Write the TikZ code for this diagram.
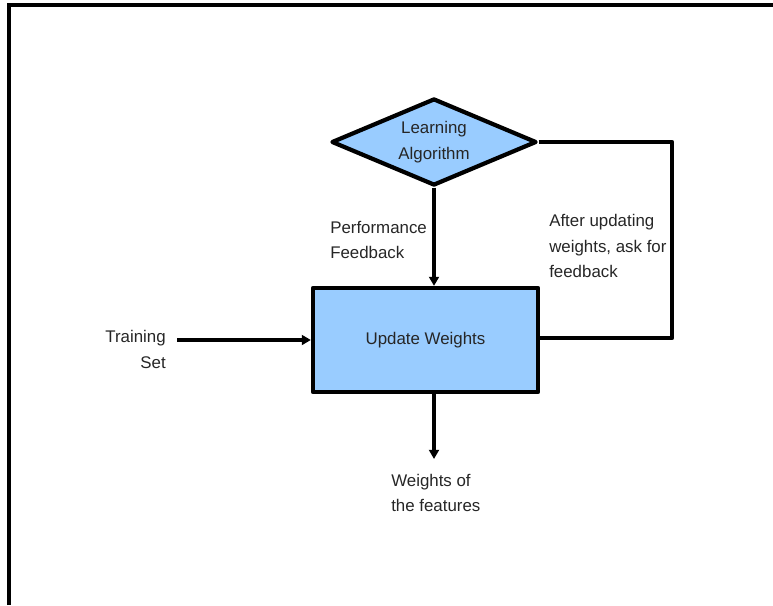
\documentclass[tikz,border=0pt]{standalone}
\usepackage{fontspec}
\setmainfont{Liberation Sans}
\usepackage{tikz}
\usetikzlibrary{arrows.meta,calc,positioning,shapes.geometric}
\definecolor{boxblue}{HTML}{99CCFF}
\definecolor{txtgray}{HTML}{262626}
\tikzset{
  lbl/.style={text=txtgray,font=\fontsize{12}{18.2}\selectfont},
  note/.style={lbl,inner sep=0pt},
  stepnode/.style={lbl,draw,fill=boxblue,line width=3pt,line join=round},
  flow/.style={line width=3.3pt},
  flowarr/.style={flow,-{Triangle[length=6.5pt,width=7pt]}}
}

\begin{document}
\begin{tikzpicture}
\useasboundingbox (0,0) rectangle (19.325,-15.125);
\draw[line width=2.3pt] (0.225,-15.125) -- (0.225,-0.125) -- (19.325,-0.125);
\node[stepnode,diamond,shape aspect=2.36,inner sep=0pt,minimum width=5.125cm,minimum height=2.175cm,align=center] (lrn) at (10.85,-3.55) {Learning\\Algorithm};
\node[stepnode,rectangle,minimum width=5.625cm,minimum height=2.6cm] (upd) at (10.6375,-8.5) {Update Weights};
\coordinate (train) at (4.425,-8.5);
\coordinate (ret) at (16.8,-8.45);
\coordinate (out) at (10.85,-11.475);
\node[note,anchor=east,align=right] (trainlbl) at (4.15,-8.74) {Training\\Set};
\node[note,anchor=west,align=left] (perf) at (8.25,-6.0) {Performance\\Feedback};
\node[note,anchor=west,align=left] (ask) at (13.725,-6.15) {After updating\\weights, ask for\\feedback};
\node[note,anchor=west,align=left] (wts) at (9.775,-12.325) {Weights of\\the features};
\path[flowarr]
(lrn.south) edge (lrn.south |- upd.north)
(train) edge (upd.west)
(lrn.south |- upd.south) edge (out);
\draw[flow,line join=round] (lrn.east) -| (ret) -- (ret -| upd.east);
\end{tikzpicture}
\end{document}
